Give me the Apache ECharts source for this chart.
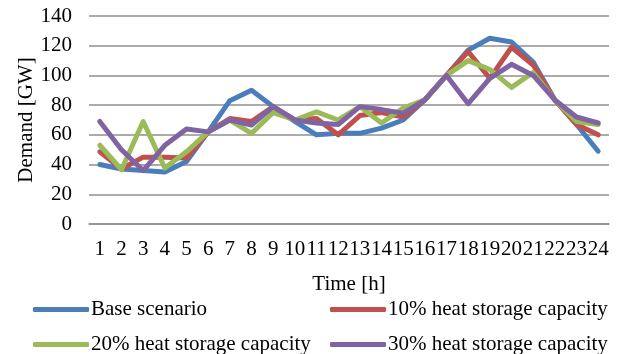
<!DOCTYPE html>
<html>
<head>
<meta charset="utf-8">
<script src="https://cdn.jsdelivr.net/npm/echarts@6/dist/echarts.min.js"></script>
<style>
  html, body { margin: 0; padding: 0; background: #fff; }
  #chart { width: 622px; height: 354px; }
</style>
</head>
<body>
<div id="chart"></div>
<script>
// Hourly demand (GW) for each heat-storage scenario
const hours = ['1','2','3','4','5','6','7','8','9','10','11','12','13','14','15','16','17','18','19','20','21','22','23','24'];
const baseScenario = [40, 37, 36, 35, 42, 62, 83, 90, 79, 69, 60, 61, 61, 64.5, 70, 83.5, 100, 117, 125, 122.5, 109, 83.5, 67, 49];
const storage10 = [48.6, 37, 45, 45, 44.5, 62, 71, 69, 79, 70, 71, 60, 73, 75, 72, 83.5, 100, 116, 98, 119, 107, 83.5, 67, 60];
const storage20 = [53, 36.5, 69, 37.7, 48.6, 62, 70, 61, 75, 70, 75.5, 70, 79, 68, 78, 83.5, 100, 110, 104, 92, 102, 83.5, 69, 67];
const storage30 = [69, 50, 36, 53, 64, 62, 70, 66.6, 79, 70, 68, 67, 79, 77, 74.5, 83.5, 100, 81, 98, 107.5, 100, 83.5, 72, 68];
const yTicks = { min: 0, max: 140, interval: 20 };

const seriesNames = ['Base scenario', '10% heat storage capacity', '20% heat storage capacity', '30% heat storage capacity'];
const seriesColors = ['#4a7ebb', '#c0504d', '#9bbb59', '#8064a2'];
const seriesData = [baseScenario, storage10, storage20, storage30];

const FONT = '"Liberation Serif", "DejaVu Serif", serif';
const textBase = { fontFamily: FONT, fontSize: 21, color: '#000' };

const chart = echarts.init(document.getElementById('chart'), null, { renderer: 'canvas' });

// One legend entry per component so the 2x2 grid of entries lines up
const legendSlots = [
  { left: 33, top: 299 },
  { left: 330, top: 299 },
  { left: 33, top: 334 },
  { left: 330, top: 334 }
];

function legendEntry(name, slot) {
  return {
    orient: 'horizontal',
    left: slot.left,
    top: slot.top,
    itemWidth: 56,
    itemHeight: 5,
    icon: 'roundRect',
    padding: 0,
    data: [name],
    textStyle: Object.assign({}, textBase, { lineHeight: 21, padding: [0, 0, 0, -3] })
  };
}

chart.setOption({
  animation: false,
  backgroundColor: '#fff',
  color: seriesColors,
  grid: { left: 89, right: 13, top: 16, bottom: 130, containLabel: false },
  legend: seriesNames.map((n, i) => legendEntry(n, legendSlots[i])),
  xAxis: {
    type: 'category',
    data: hours,
    boundaryGap: true,
    name: 'Time [h]',
    nameLocation: 'middle',
    nameGap: 50,
    nameMoveOverlap: false,
    nameTextStyle: textBase,
    axisLine: { show: true, lineStyle: { color: '#8f8f8f', width: 1.5 } },
    axisTick: { show: false },
    axisLabel: Object.assign({}, textBase, { margin: 15, interval: 0 }),
    splitLine: { show: false }
  },
  yAxis: {
    type: 'value',
    min: yTicks.min,
    max: yTicks.max,
    interval: yTicks.interval,
    name: 'Demand [GW]',
    nameLocation: 'middle',
    nameGap: 52,
    nameRotate: 90,
    nameMoveOverlap: false,
    nameTextStyle: textBase,
    axisLine: { show: false },
    axisTick: { show: false },
    axisLabel: Object.assign({}, textBase, { margin: 17 }),
    splitLine: { show: true, lineStyle: { color: '#8f8f8f', width: 1.5 } }
  },
  series: seriesData.map((d, i) => ({
    name: seriesNames[i],
    type: 'line',
    data: d,
    showSymbol: false,
    symbol: 'none',
    lineStyle: { width: 5, color: seriesColors[i], cap: 'round', join: 'round' },
    itemStyle: { color: seriesColors[i] },
    z: 2 + i
  }))
});
</script>
</body>
</html>
